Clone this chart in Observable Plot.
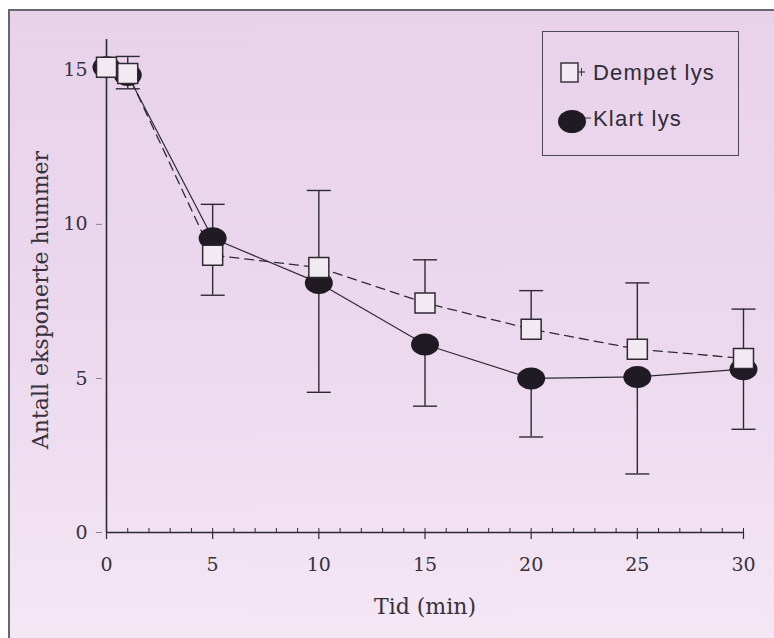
<!DOCTYPE html>
<html>
<head>
<meta charset="utf-8">
<script src="https://cdn.jsdelivr.net/npm/d3@7"></script>
<script src="https://cdn.jsdelivr.net/npm/@observablehq/plot@0.6"></script>
<style>
html, body { margin: 0; padding: 0; background: #ffffff; }
#wrap { position: relative; width: 774px; height: 638px; overflow: hidden; }
#bg { position: absolute; left: 8px; top: 9px; right: 0; bottom: 0;
  border-top: 2px solid #6b6470; border-left: 2px solid #6b6470;
  background: linear-gradient(#e8d2ea, #ecd9ee 55%, #f4e7f4); }
#chart { position: absolute; left: 0; top: 0; }
#legend { position: absolute; left: 542px; top: 31px; width: 195px; height: 123px;
  border: 1.5px solid #4d4752; }
#legend .lab { position: absolute; left: 50px; font-family: "Liberation Sans", Arial, sans-serif;
  font-size: 22px; line-height: 22px; letter-spacing: 1.2px; color: #2f2b35; white-space: nowrap; }
#legend svg { position: absolute; left: 0; top: 0; }
</style>
</head>
<body>
<div id="wrap">
  <div id="bg"></div>
  <div id="chart"></div>
  <div id="legend">
    <svg width="60" height="123">
      <rect x="18" y="31" width="17" height="19" fill="#f3e9f3" stroke="#3a3540" stroke-width="1.5"></rect>
      <line x1="35" y1="40" x2="42" y2="40" stroke="#3a3540" stroke-width="1.2"></line>
      <line x1="38.5" y1="36" x2="38.5" y2="44" stroke="#3a3540" stroke-width="1"></line>
      <ellipse cx="29" cy="89.5" rx="14" ry="11.5" fill="#1f1a24"></ellipse>
      <line x1="42" y1="86" x2="48" y2="86" stroke="#3a3540" stroke-width="1"></line>
    </svg>
    <span class="lab" id="lab1" style="top:30px">Dempet lys</span>
    <span class="lab" id="lab2" style="top:76px">Klart lys</span>
  </div>
</div>
<script>
// ---- data ----
const times       = [0, 1, 5, 10, 15, 20, 25, 30];
const dempet      = [15.1, 14.9, 9.0, 8.6, 7.45, 6.6, 5.95, 5.65];
const klart       = [15.1, 14.85, 9.55, 8.1, 6.1, 5.0, 5.05, 5.3];
const dempetUpper = [null, 15.45, 10.65, 11.1, 8.85, 7.85, 8.1, 7.25];
const klartLower  = [null, 14.4, 7.7, 4.55, 4.1, 3.1, 1.9, 3.35];
const xTicks      = [0, 5, 10, 15, 20, 25, 30];
const yTicks      = [0, 5, 10, 15];
const xLabel      = "Tid (min)";
const yLabel      = "Antall eksponerte hummer";
const seriesNames = ["Dempet lys", "Klart lys"];

document.getElementById("lab1").textContent = seriesNames[0];
document.getElementById("lab2").textContent = seriesNames[1];

const rows = times.map((t, i) => ({t, dempet: dempet[i], klart: klart[i], upper: dempetUpper[i], lower: klartLower[i]}));
const errRows = rows.filter(d => d.upper != null);

// ---- custom symbols ----
const ellipseSym = {draw(ctx) {
  const rx = 14, ry = 11, k = 0.5523;
  ctx.moveTo(rx, 0);
  ctx.bezierCurveTo(rx, ry * k, rx * k, ry, 0, ry);
  ctx.bezierCurveTo(-rx * k, ry, -rx, ry * k, -rx, 0);
  ctx.bezierCurveTo(-rx, -ry * k, -rx * k, -ry, 0, -ry);
  ctx.bezierCurveTo(rx * k, -ry, rx, -ry * k, rx, 0);
  ctx.closePath();
}};
const boxSym = {draw(ctx) { ctx.rect(-10, -10, 20, 20); }};
const capSym = {draw(ctx) { ctx.moveTo(-12, 0); ctx.lineTo(12, 0); }};

const ink = "#2e2a33";
const txt = "#36313c";

const chart = Plot.plot({
  width: 774, height: 638,
  marginLeft: 106, marginRight: 31, marginTop: 39, marginBottom: 106,
  x: {domain: [0, 30]},
  y: {domain: [0, 16]},
  style: {background: "transparent", fontFamily: "DejaVu Serif", color: txt},
  marks: [
    // axes
    Plot.axisX({ticks: d3.range(0, 31), tickSize: -4, text: null, label: null, stroke: ink, strokeWidth: 1}),
    Plot.axisX({ticks: xTicks, tickSize: 7, tickPadding: 18, fontSize: 19, label: null, stroke: ink, strokeWidth: 1.2}),
    Plot.axisY({ticks: yTicks, tickSize: 0, tickPadding: 19, fontSize: 19, label: null}),
    Plot.axisY({ticks: yTicks, tickSize: 6, dx: -4, text: null, label: null, stroke: "#8a8290"}),
    Plot.ruleY([0], {stroke: ink, strokeWidth: 1.6}),
    Plot.ruleX([0], {stroke: ink, strokeWidth: 1.6}),
    Plot.text([xLabel], {frameAnchor: "bottom", textAnchor: "middle", dy: 81, fontSize: 22, fill: txt}),
    Plot.text([yLabel], {frameAnchor: "left", textAnchor: "middle", dx: -66, dy: 14, rotate: -90, fontSize: 22, fill: txt}),
    // error bars
    Plot.ruleX(errRows, {x: "t", y1: "dempet", y2: "upper", stroke: ink, strokeWidth: 1.4}),
    Plot.ruleX(errRows, {x: "t", y1: "klart", y2: "lower", stroke: ink, strokeWidth: 1.4}),
    Plot.dot(errRows, {x: "t", y: "upper", symbol: capSym, stroke: ink, strokeWidth: 1.4}),
    Plot.dot(errRows, {x: "t", y: "lower", symbol: capSym, stroke: ink, strokeWidth: 1.4}),
    // lines
    Plot.line(rows, {x: "t", y: "klart", stroke: ink, strokeWidth: 1.2}),
    Plot.line(rows, {x: "t", y: "dempet", stroke: ink, strokeWidth: 1.3, strokeDasharray: "9,6"}),
    // markers
    Plot.dot(rows, {x: "t", y: "klart", symbol: ellipseSym, fill: "#1f1a24", stroke: "none"}),
    Plot.dot(rows, {x: "t", y: "dempet", symbol: boxSym, fill: "#f3e9f3", stroke: ink, strokeWidth: 1.5})
  ]
});
document.getElementById("chart").appendChild(chart);
</script>
</body>
</html>
